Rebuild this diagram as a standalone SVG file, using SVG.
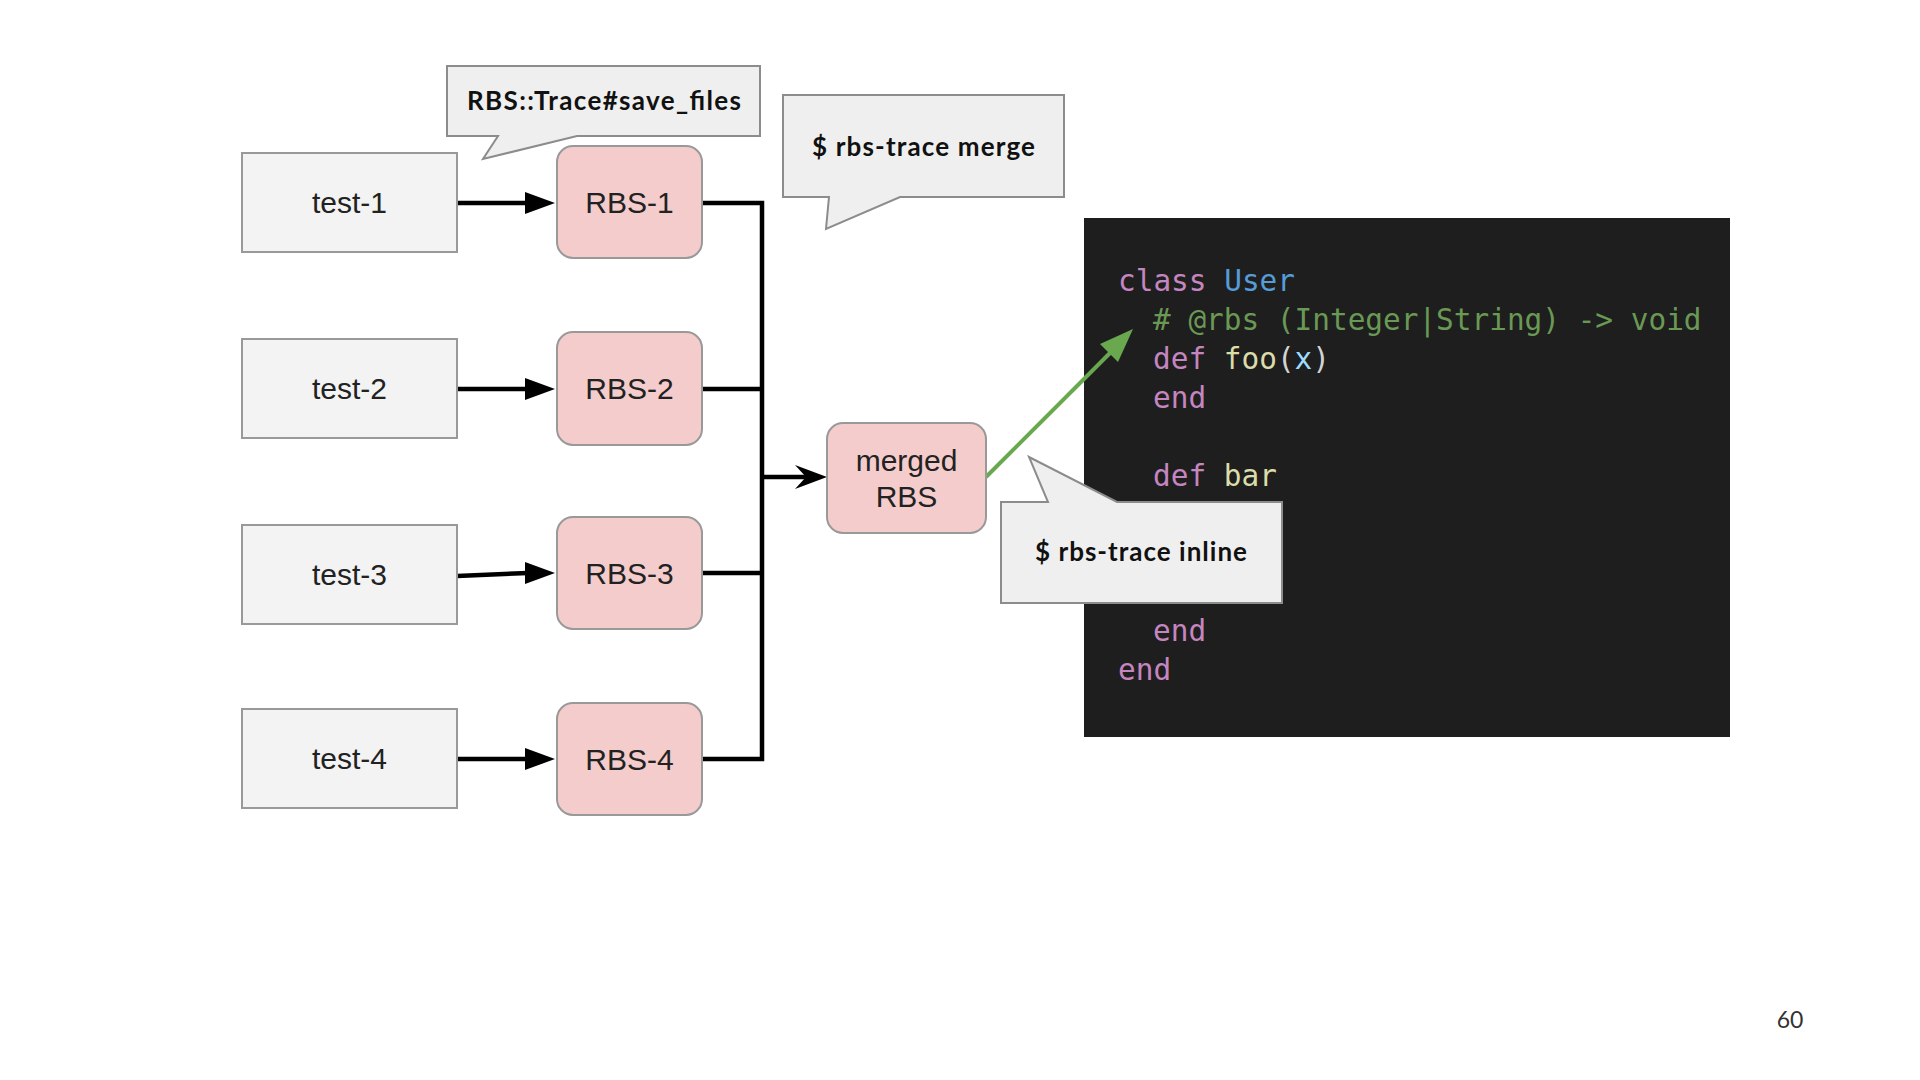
<svg xmlns="http://www.w3.org/2000/svg" width="1920" height="1080" viewBox="0 0 1920 1080">
<defs>
<style>
.box{fill:#f3f3f3;stroke:#999999;stroke-width:2}
.rbs{fill:#f4cccc;stroke:#999999;stroke-width:2}
.lbl{font-family:"Liberation Sans",Arial,sans-serif;font-size:30px;fill:#222222;text-anchor:middle}
.callout{fill:#efefef;stroke:#8c8c8c;stroke-width:2;stroke-linejoin:miter}
.ctext{font-family:Lato,"Open Sans",sans-serif;font-weight:bold;font-size:26px;fill:#111111}
.wire{fill:none;stroke:#000000;stroke-width:4.5}
.head{fill:#000000}
.code{font-family:"DejaVu Sans Mono","Liberation Mono",monospace;font-size:29.4px}
.kw{fill:#c586c0}
.cls{fill:#569cd6}
.cm{fill:#6a9955}
.fn{fill:#dcdcaa}
.var{fill:#9cdcfe}
.pn{fill:#d4d4d4}
</style>
</defs>
<rect x="0" y="0" width="1920" height="1080" fill="#ffffff"/>

<g id="code-panel">
<rect x="1084" y="218" width="646" height="519" fill="#1e1e1e"/>
<text class="code" x="1118" y="291"><tspan class="kw">class</tspan> <tspan class="cls">User</tspan></text>
<text class="code cm" x="1153" y="330" xml:space="preserve"># @rbs (Integer|String) -&gt; void</text>
<text class="code" x="1153" y="369"><tspan class="kw">def</tspan> <tspan class="fn">foo</tspan><tspan class="pn">(</tspan><tspan class="var">x</tspan><tspan class="pn">)</tspan></text>
<text class="code kw" x="1153" y="408">end</text>
<text class="code" x="1153" y="486"><tspan class="kw">def</tspan> <tspan class="fn">bar</tspan></text>
<text class="code kw" x="1153" y="641">end</text>
<text class="code kw" x="1118" y="680">end</text>
</g>

<g id="connectors">
<line class="wire" x1="457" y1="203" x2="528" y2="203"/>
<polygon class="head" points="525,192 555,203 525,214"/>
<line class="wire" x1="457" y1="389" x2="528" y2="389"/>
<polygon class="head" points="525,378 555,389 525,400"/>
<line class="wire" x1="457" y1="576" x2="528" y2="573"/>
<polygon class="head" points="525,562 555,573 525,584"/>
<line class="wire" x1="457" y1="759" x2="528" y2="759"/>
<polygon class="head" points="525,748 555,759 525,770"/>
<path class="wire" d="M702,203 H762 V759 H702"/>
<path class="wire" d="M702,389 H762"/>
<path class="wire" d="M702,573 H762"/>
<path class="wire" d="M762,477 H808"/>
<polygon class="head" points="827,477 795,465 806,477 795,489"/>
<line x1="986" y1="477" x2="1111" y2="352" stroke="#6aa84f" stroke-width="4"/>
<polygon fill="#6aa84f" points="1133,329 1118,362 1100,344"/>
</g>

<g id="test-1"><rect class="box" x="242" y="153" width="215" height="99"/><text class="lbl" x="349.5" y="213">test-1</text></g>
<g id="test-2"><rect class="box" x="242" y="339" width="215" height="99"/><text class="lbl" x="349.5" y="399">test-2</text></g>
<g id="test-3"><rect class="box" x="242" y="525" width="215" height="99"/><text class="lbl" x="349.5" y="585">test-3</text></g>
<g id="test-4"><rect class="box" x="242" y="709" width="215" height="99"/><text class="lbl" x="349.5" y="769">test-4</text></g>

<g id="rbs-1"><rect class="rbs" x="557" y="146" width="145" height="112" rx="16"/><text class="lbl" x="629.5" y="213">RBS-1</text></g>
<g id="rbs-2"><rect class="rbs" x="557" y="332" width="145" height="113" rx="16"/><text class="lbl" x="629.5" y="399">RBS-2</text></g>
<g id="rbs-3"><rect class="rbs" x="557" y="517" width="145" height="112" rx="16"/><text class="lbl" x="629.5" y="584">RBS-3</text></g>
<g id="rbs-4"><rect class="rbs" x="557" y="703" width="145" height="112" rx="16"/><text class="lbl" x="629.5" y="770">RBS-4</text></g>

<g id="merged-rbs"><rect class="rbs" x="827" y="423" width="159" height="110" rx="16"/><text class="lbl" x="906.5" y="471">merged</text><text class="lbl" x="906.5" y="507">RBS</text></g>

<g id="callout-save-files">
<path class="callout" d="M447,66 H760 V136 H577 L483,159 L498,136 H447 Z"/>
<text class="ctext" x="467" y="110" textLength="274">RBS::Trace#save_files</text>
</g>
<g id="callout-merge">
<path class="callout" d="M783,95 H1064 V197 H900 L826,229 L829,197 H783 Z"/>
<text class="ctext" x="812" y="156" textLength="223">$ rbs-trace merge</text>
</g>
<g id="callout-inline">
<path class="callout" d="M1001,502 H1048 L1029,457 L1117,502 H1282 V603 H1001 Z"/>
<text class="ctext" x="1035" y="561" textLength="212">$ rbs-trace inline</text>
</g>

<text x="1790" y="1028" font-family="Lato,'Open Sans',sans-serif" font-size="23" fill="#333333" text-anchor="middle">60</text>
</svg>
